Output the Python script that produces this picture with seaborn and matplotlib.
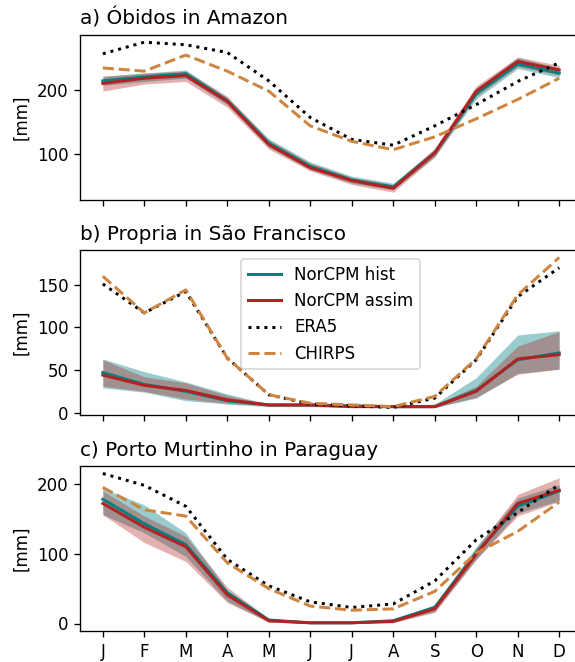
import numpy as np
import pandas as pd
import matplotlib
matplotlib.use("Agg")
import matplotlib.pyplot as plt
import seaborn as sns

months = ["J", "F", "M", "A", "M", "J", "J", "A", "S", "O", "N", "D"]
titles = ["a) Óbidos in Amazon", "b) Propria in São Francisco", "c) Porto Murtinho in Paraguay"]

# Panel a: Óbidos
a_hist = [214, 220, 225, 183, 117, 81, 60, 49, 102, 194, 240, 226]
a_hist_lo = [207, 213, 218, 177, 111, 76, 55, 45, 96, 186, 233, 219]
a_hist_hi = [221, 226, 231, 188, 124, 88, 66, 55, 108, 202, 250, 234]
a_assim = [210, 218, 222, 182, 115, 79, 59, 47, 102, 198, 244, 231]
a_assim_lo = [198, 209, 213, 173, 108, 74, 53, 41, 96, 190, 236, 223]
a_assim_hi = [221, 226, 229, 190, 122, 86, 64, 53, 109, 206, 251, 238]
a_era5 = [256, 274, 270, 258, 214, 157, 123, 114, 144, 177, 213, 242]
a_chirps = [234, 229, 254, 229, 198, 144, 120, 107, 127, 155, 185, 218]

# Panel b: Propria
b_hist = [47, 33, 25, 14, 9, 9, 8, 7, 7, 26, 62, 70]
b_hist_lo = [29, 24, 14, 10, 7, 7, 6, 6, 6, 17, 46, 51]
b_hist_hi = [63, 48, 36, 22, 10, 10, 9, 8, 10, 41, 91, 96]
b_assim = [44, 32, 26, 15, 9, 9, 7, 7, 7, 25, 63, 68]
b_assim_lo = [31, 25, 16, 11, 8, 8, 6, 6, 6, 18, 45, 51]
b_assim_hi = [62, 42, 35, 20, 10, 10, 8, 8, 9, 31, 78, 95]
b_era5 = [151, 117, 142, 64, 21, 10, 8, 6, 17, 62, 136, 170]
b_chirps = [160, 117, 144, 64, 21, 11, 9, 7, 19, 63, 138, 182]

# Panel c: Porto Murtinho
c_hist = [178, 143, 113, 44, 5, 1, 1, 4, 23, 101, 168, 190]
c_hist_lo = [156, 130, 96, 32, 2, 0, 0, 2, 17, 92, 158, 176]
c_hist_hi = [194, 170, 130, 48, 7, 2, 2, 6, 27, 110, 180, 199]
c_assim = [172, 138, 110, 41, 4, 1, 1, 3, 21, 99, 172, 191]
c_assim_lo = [156, 116, 89, 30, 2, 0, 0, 1, 16, 92, 154, 175]
c_assim_hi = [190, 154, 125, 52, 7, 2, 2, 5, 26, 108, 185, 209]
c_era5 = [215, 198, 168, 92, 54, 31, 23, 28, 61, 120, 159, 199]
c_chirps = [195, 163, 154, 87, 50, 25, 19, 21, 46, 101, 132, 174]

panels = [
    (a_hist, a_hist_lo, a_hist_hi, a_assim, a_assim_lo, a_assim_hi, a_era5, a_chirps),
    (b_hist, b_hist_lo, b_hist_hi, b_assim, b_assim_lo, b_assim_hi, b_era5, b_chirps),
    (c_hist, c_hist_lo, c_hist_hi, c_assim, c_assim_lo, c_assim_hi, c_era5, c_chirps),
]

plt.rcParams["font.family"] = ["DejaVu Sans"]

W, H = 575, 662
DPI = 120
fig = plt.figure(figsize=(W / DPI, H / DPI), dpi=DPI)

left = 80 / W
width = (582 - 80) / W
tops = [34.7, 250, 466]
heights = 165

hist_c = "teal"
assim_c = "firebrick"
chirps_c = "peru"

x = np.arange(12)
for i, (hist, hlo, hhi, assim, alo, ahi, era5, chirps) in enumerate(panels):
    bottom = 1 - (tops[i] + heights) / H
    ax = fig.add_axes([left, bottom, width, heights / H])
    df = pd.DataFrame({"m": x, "hist": hist, "assim": assim, "era5": era5, "chirps": chirps})
    ax.fill_between(x, hlo, hhi, color=hist_c, alpha=0.4, linewidth=0)
    ax.fill_between(x, alo, ahi, color=assim_c, alpha=0.35, linewidth=0)
    sns.lineplot(data=df, x="m", y="hist", ax=ax, color=hist_c, lw=1.8, label="NorCPM hist")
    sns.lineplot(data=df, x="m", y="assim", ax=ax, color=assim_c, lw=1.8, label="NorCPM assim")
    sns.lineplot(data=df, x="m", y="era5", ax=ax, color="black", lw=1.8, linestyle=":", label="ERA5")
    sns.lineplot(data=df, x="m", y="chirps", ax=ax, color=chirps_c, lw=1.8, linestyle="--", label="CHIRPS")
    ax.set_xlim(-0.55, 11.55)
    ax.set_xticks(x)
    if i == 2:
        ax.set_xticklabels(months)
    else:
        ax.set_xticklabels([])
    ax.set_xlabel("")
    ax.set_ylabel("[mm]")
    ax.set_title(titles[i], loc="left")
    if i == 1:
        ax.legend(loc="upper left", bbox_to_anchor=(0.321, 0.945), borderaxespad=0)
    else:
        ax.get_legend().remove()
    if i == 1:
        ax.set_yticks([0, 50, 100, 150])
    elif i == 0:
        ax.set_yticks([100, 200])
    else:
        ax.set_yticks([0, 100, 200])

fig.savefig("out.png", dpi=DPI)
